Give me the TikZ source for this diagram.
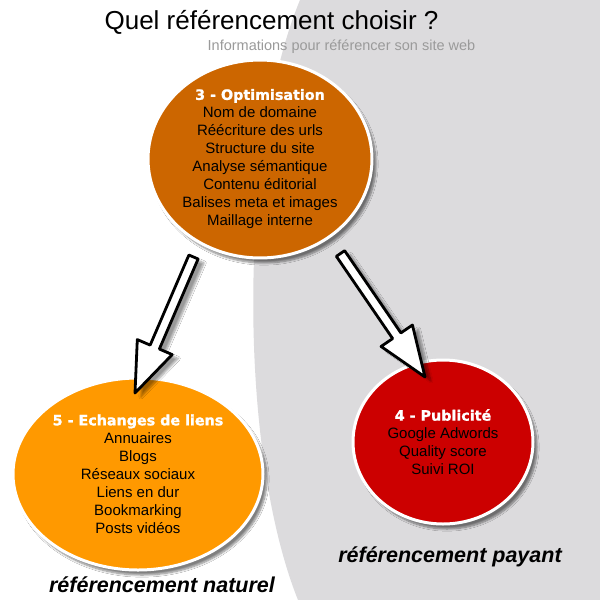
\documentclass[tikz,border=0pt]{standalone}
\usepackage{fontspec}
\setmainfont{Liberation Sans}
\newfontfamily\heavyfont[BoldFeatures={FakeBold=1.2}]{DejaVu Sans}
\usetikzlibrary{shapes.geometric,calc,shadows.blur}

\definecolor{fondgris}{RGB}{220,219,221}
\definecolor{optbrun}{RGB}{204,102,0}
\definecolor{echorange}{RGB}{255,153,0}
\definecolor{pubrouge}{RGB}{204,0,0}
\definecolor{soustitre}{RGB}{154,154,154}

\tikzset{
  bulle/.style={ellipse, draw=white, line width=3pt, inner sep=0pt, align=center,
    font=\fontsize{15}{18}\selectfont, text=black,
    blur shadow={shadow xshift=4pt, shadow yshift=-5pt, shadow blur steps=8, shadow opacity=50}},
  fleche/.style={draw=black, fill=white, line width=2.8pt, line join=round,
    blur shadow={shadow xshift=6pt, shadow yshift=-4pt, shadow blur steps=8, shadow opacity=40}},
  legende/.style={font=\fontsize{21.5}{24}\selectfont\bfseries\itshape, inner sep=0pt, anchor=base}
}

\newcommand\entete[1]{{\heavyfont\bfseries\fontsize{14.3}{18}\selectfont\color{white}#1}}

% big outlined arrow from #1 to #2
\newcommand\fatarrow[2]{%
  \coordinate (fa-h) at ($(#2)!50pt!(#1)$);
  \draw[fleche] ($(#1)!5pt!90:(#2)$) -- ($(fa-h)!5pt!90:(#2)$) -- ($(fa-h)!19pt!90:(#2)$)
    -- (#2) -- ($(fa-h)!19pt!-90:(#2)$) -- ($(fa-h)!5pt!-90:(#2)$) -- ($(#1)!5pt!-90:(#2)$) -- cycle;}

\begin{document}
\begin{tikzpicture}[x=1pt, y=1pt]
  \useasboundingbox (0,0) rectangle (600,-600);

  % fond
  \fill[white] (0,0) rectangle (600,-600);
  \fill[fondgris] (300,0) .. controls (238,-150) and (238,-450) .. (298,-600)
    -- (600,-600) -- (600,0) -- cycle;

  % titre
  \node[font=\fontsize{26}{30}\selectfont, inner sep=0pt, anchor=base] (titre) at (271.5,-29)
    {Quel référencement choisir ?};
  \node[font=\fontsize{14.5}{17}\selectfont, text=soustitre, inner sep=0pt, anchor=base] (info) at (341.5,-50.5)
    {Informations pour référencer son site web};

  % bulles
  \node[bulle, fill=optbrun, minimum width=224pt, minimum height=192pt] (opt) at (260,-159)
    {\entete{3 - Optimisation}\\ Nom de domaine\\ Réécriture des urls\\ Structure du site\\
     Analyse sémantique\\ Contenu éditorial\\ Balises meta et images\\ Maillage interne};
  \node[bulle, fill=echorange, minimum width=250pt, minimum height=192pt] (ech) at (138,-474)
    {\entete{5 - Echanges de liens}\\ Annuaires\\ Blogs\\ Réseaux sociaux\\
     Liens en dur\\ Bookmarking\\ Posts vidéos};
  \node[bulle, fill=pubrouge, minimum width=180pt, minimum height=164pt] (pub) at (443,-442)
    {\entete{4 - Publicité}\\ Google Adwords\\ Quality score\\ Suivi ROI};

  % fleches
  \coordinate (optG) at ($(opt.center)+(-66.5,-98)$);
  \coordinate (echH) at ($(ech.center)+(-3,81)$);
  \coordinate (optD) at ($(opt.center)+(80.5,-94.5)$);
  \coordinate (pubH) at ($(pub.center)+(-18,65)$);
  \fatarrow{optG}{echH}
  \fatarrow{optD}{pubH}

  % legendes
  \node[legende] (naturel) at (162,-592) {référencement naturel};
  \node[legende] (payant) at (450,-562.5) {référencement payant};
\end{tikzpicture}
\end{document}
